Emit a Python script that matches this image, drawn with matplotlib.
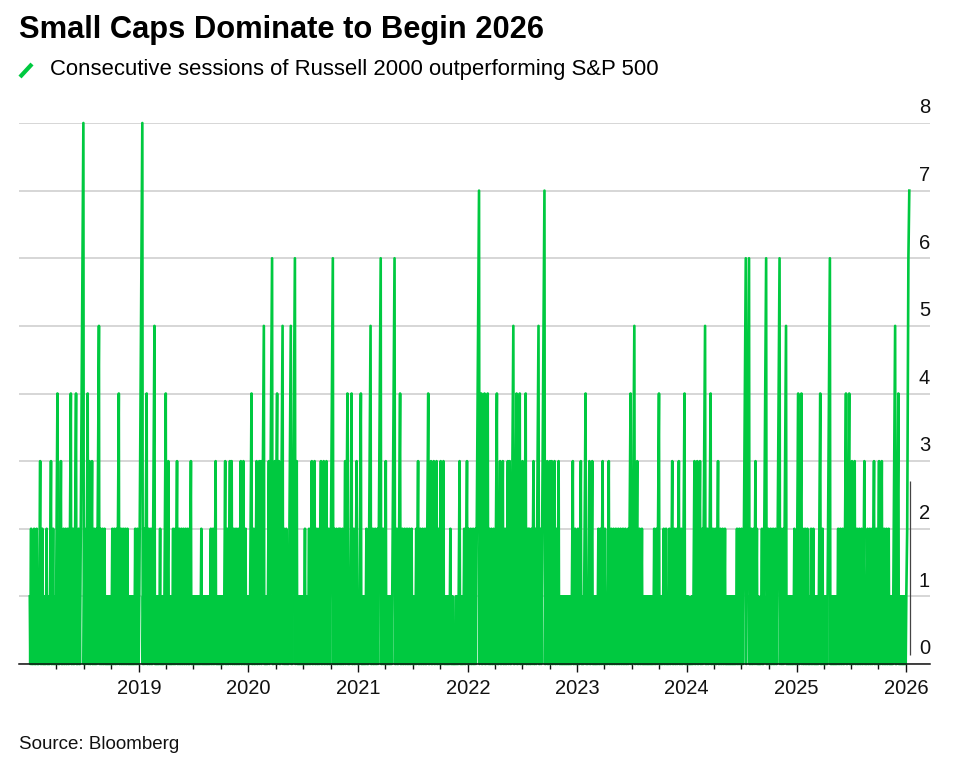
import pandas as pd
import matplotlib.pyplot as plt
import matplotlib.dates as mdates
import numpy as np
from matplotlib.lines import Line2D

plt.rcParams['font.family'] = ['Liberation Sans', 'DejaVu Sans']

# winning streaks of Russell 2000 vs S&P 500
# each digit = streak length (counts 1..k then a losing day), '0' = one more losing day
streaks = {
    2018: "1211210211 3121011211 131211041 1310212121 41214012 182143 1312125 "
          "21212101011 101212124 1212121201 11011102121",
    2019: "812412 1215010111 2011014130 1101212312 1212121210 310110111011 "
          "120110110111 12121310101 1011013121 33121212 131312101",
    2020: "10412131 3351011 36134 3152121 151631 010110112111 21313121 "
          "23131312 1621212 2121341 1412131",
    2021: "1410111210 5121212 61213101 10116121 41212121 212101123 12121214 "
          "1313131 231310110 1121010000011 131011213",
    2022: "21212127 414142 12121410 3131213 315141 4131412 2123125 1271313 "
          "3131231 1010110101101 1131210",
    2023: "21310141 131310101 12123121 13121212 121212120 1241513 12121010110 "
          "1011011212 411012121 12131212 3121410",
    2024: "101000001131 313125 12141212 13121212 1011010110101 12121216 612123 "
          "2100001216 121212121 621251 10110101201",
    2025: "4142121 21012121010 114121101 1610110101 12121214 1413131 21212131 "
          "12121231 2131312 1212101015 14101101011",
}
sessions_2026 = [1, 2, 3, 4, 5, 6, 7]
year_ticks = [2019, 2020, 2021, 2022, 2023, 2024, 2025, 2026]

GREEN = '#00c940'


def expand(code):
    vals = []
    for ch in code.replace(' ', ''):
        k = int(ch)
        vals += list(range(1, k + 1)) + [0]
    return vals


dates = []
values = []
for y, code in streaks.items():
    v = expand(code)
    dates += list(pd.date_range(f'{y}-01-02', f'{y}-12-31', periods=len(v)))
    values += v
dates += list(pd.bdate_range('2026-01-02', periods=len(sessions_2026)))
values += sessions_2026

fig = plt.figure(figsize=(9.66, 7.75), dpi=100)
ax = fig.add_axes([19 / 966, 111 / 775, 911 / 966, 541 / 775])

ax.plot(dates, values, color=GREEN, lw=1.9, clip_on=False, zorder=3)
ax.vlines(dates[-1] + pd.Timedelta(days=3), 0.13, 2.7, color='#444444', lw=0.9, zorder=4)

ax.set_xlim(pd.Timestamp('2017-11-27'), pd.Timestamp('2026-03-22'))
ax.set_ylim(0, 8)

ax.set_yticks(range(0, 9))
ax.grid(axis='y', color='#cccccc', lw=1.1, zorder=0)
ax.tick_params(axis='y', length=0, labelleft=False)
for v in range(9):
    ax.annotate(str(v), xy=(1, v), xycoords=('axes fraction', 'data'),
                xytext=(0, 7), textcoords='offset points',
                ha='right', va='baseline', fontsize=14.5, color='#111111')

ax.set_xticks([pd.Timestamp(f'{y}-01-01') for y in year_ticks])
ax.set_xticklabels([str(y) for y in year_ticks])
ax.xaxis.set_minor_locator(mdates.MonthLocator(bymonth=[4, 7, 10]))
ax.tick_params(axis='x', which='major', length=6, width=1, pad=5,
               labelsize=14.5, colors='#111111')
ax.tick_params(axis='x', which='minor', length=3.5, width=1, colors='#111111')

for s in ['top', 'left', 'right']:
    ax.spines[s].set_visible(False)
ax.spines['bottom'].set_color('#111111')
ax.spines['bottom'].set_linewidth(1.1)
ax.spines['bottom'].set_zorder(5)

fig.text(19 / 966, 1 - 38 / 775, 'Small Caps Dominate to Begin 2026',
         fontsize=22.2, fontweight='bold', va='baseline', ha='left')
fig.add_artist(Line2D([20 / 966, 32 / 966], [1 - 77 / 775, 1 - 64 / 775],
                      color=GREEN, lw=3, solid_capstyle='butt'))
fig.text(50 / 966, 1 - 75 / 775,
         'Consecutive sessions of Russell 2000 outperforming S&P 500',
         fontsize=15.9, va='baseline', ha='left')
fig.text(19 / 966, 1 - 749 / 775, 'Source: Bloomberg',
         fontsize=13.5, va='baseline', ha='left', color='#111111')

fig.savefig('out.png', dpi=100)
